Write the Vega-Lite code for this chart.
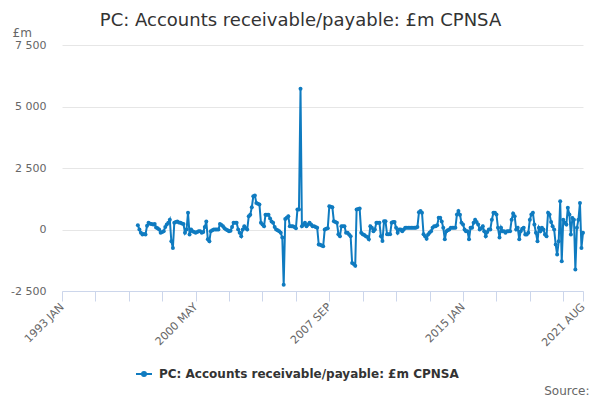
{
  "$schema": "https://vega.github.io/schema/vega-lite/v6.json",
  "width": 521,
  "height": 246,
  "autosize": "none",
  "padding": {"left": 62, "top": 45, "right": 17, "bottom": 109},
  "title": {"text": "PC: Accounts receivable/payable: £m CPNSA", "anchor": "middle", "dx": -22, "offset": -4, "fontSize": 18, "fontWeight": "normal", "color": "#333333", "font": "DejaVu Sans"},
  "data": {
    "format": {"parse": {"d": "utc:'%Y-%m'"}},
    "values": [
      {"d":"1997-03","v":175},{"d":"1997-04","v":0},{"d":"1997-05","v":-130},{"d":"1997-06","v":-200},{"d":"1997-07","v":-180},{"d":"1997-08","v":-200},{"d":"1997-09","v":150},{"d":"1997-10","v":270},{"d":"1997-11","v":230},{"d":"1997-12","v":220},
      {"d":"1998-01","v":200},{"d":"1998-02","v":220},{"d":"1998-03","v":80},{"d":"1998-04","v":50},{"d":"1998-05","v":0},{"d":"1998-06","v":-130},{"d":"1998-07","v":-100},{"d":"1998-08","v":-70},{"d":"1998-09","v":100},{"d":"1998-10","v":200},{"d":"1998-11","v":270},{"d":"1998-12","v":400},
      {"d":"1999-01","v":-480},{"d":"1999-02","v":-750},{"d":"1999-03","v":270},{"d":"1999-04","v":300},{"d":"1999-05","v":330},{"d":"1999-06","v":280},{"d":"1999-07","v":270},{"d":"1999-08","v":240},{"d":"1999-09","v":220},{"d":"1999-10","v":-130},{"d":"1999-11","v":0},{"d":"1999-12","v":680},
      {"d":"2000-01","v":-200},{"d":"2000-02","v":0},{"d":"2000-03","v":-70},{"d":"2000-04","v":-100},{"d":"2000-05","v":-130},{"d":"2000-06","v":-100},{"d":"2000-07","v":-70},{"d":"2000-08","v":-70},{"d":"2000-09","v":-130},{"d":"2000-10","v":-100},{"d":"2000-11","v":100},{"d":"2000-12","v":330},
      {"d":"2001-01","v":-400},{"d":"2001-02","v":-480},{"d":"2001-03","v":-70},{"d":"2001-04","v":-30},{"d":"2001-05","v":0},{"d":"2001-06","v":0},{"d":"2001-07","v":0},{"d":"2001-08","v":0},{"d":"2001-09","v":220},{"d":"2001-10","v":180},{"d":"2001-11","v":130},{"d":"2001-12","v":50},
      {"d":"2002-01","v":0},{"d":"2002-02","v":-30},{"d":"2002-03","v":-70},{"d":"2002-04","v":-50},{"d":"2002-05","v":100},{"d":"2002-06","v":270},{"d":"2002-07","v":270},{"d":"2002-08","v":270},{"d":"2002-09","v":0},{"d":"2002-10","v":-130},{"d":"2002-11","v":-270},{"d":"2002-12","v":0},
      {"d":"2003-01","v":130},{"d":"2003-02","v":50},{"d":"2003-03","v":0},{"d":"2003-04","v":540},{"d":"2003-05","v":600},{"d":"2003-06","v":900},{"d":"2003-07","v":1350},{"d":"2003-08","v":1380},{"d":"2003-09","v":1080},{"d":"2003-10","v":1050},{"d":"2003-11","v":1020},{"d":"2003-12","v":270},
      {"d":"2004-01","v":200},{"d":"2004-02","v":130},{"d":"2004-03","v":600},{"d":"2004-04","v":600},{"d":"2004-05","v":600},{"d":"2004-06","v":450},{"d":"2004-07","v":330},{"d":"2004-08","v":270},{"d":"2004-09","v":100},{"d":"2004-10","v":0},{"d":"2004-11","v":-30},{"d":"2004-12","v":-70},
      {"d":"2005-01","v":-130},{"d":"2005-02","v":-330},{"d":"2005-03","v":-2250},{"d":"2005-04","v":430},{"d":"2005-05","v":480},{"d":"2005-06","v":540},{"d":"2005-07","v":135},{"d":"2005-08","v":135},{"d":"2005-09","v":135},{"d":"2005-10","v":100},{"d":"2005-11","v":50},{"d":"2005-12","v":810},
      {"d":"2006-01","v":810},{"d":"2006-02","v":5720},{"d":"2006-03","v":135},{"d":"2006-04","v":200},{"d":"2006-05","v":270},{"d":"2006-06","v":135},{"d":"2006-07","v":200},{"d":"2006-08","v":270},{"d":"2006-09","v":200},{"d":"2006-10","v":135},{"d":"2006-11","v":135},{"d":"2006-12","v":100},
      {"d":"2007-01","v":70},{"d":"2007-02","v":-610},{"d":"2007-03","v":-620},{"d":"2007-04","v":-650},{"d":"2007-05","v":-680},{"d":"2007-06","v":0},{"d":"2007-07","v":30},{"d":"2007-08","v":50},{"d":"2007-09","v":950},{"d":"2007-10","v":920},{"d":"2007-11","v":900},{"d":"2007-12","v":340},
      {"d":"2008-01","v":300},{"d":"2008-02","v":270},{"d":"2008-03","v":-190},{"d":"2008-04","v":-270},{"d":"2008-05","v":135},{"d":"2008-06","v":135},{"d":"2008-07","v":135},{"d":"2008-08","v":-135},{"d":"2008-09","v":-135},{"d":"2008-10","v":-200},{"d":"2008-11","v":-270},{"d":"2008-12","v":-1360},
      {"d":"2009-01","v":-1400},{"d":"2009-02","v":-1470},{"d":"2009-03","v":810},{"d":"2009-04","v":830},{"d":"2009-05","v":850},{"d":"2009-06","v":-135},{"d":"2009-07","v":-190},{"d":"2009-08","v":-220},{"d":"2009-09","v":-270},{"d":"2009-10","v":-300},{"d":"2009-11","v":-400},{"d":"2009-12","v":135},
      {"d":"2010-01","v":70},{"d":"2010-02","v":-70},{"d":"2010-03","v":0},{"d":"2010-04","v":270},{"d":"2010-05","v":270},{"d":"2010-06","v":270},{"d":"2010-07","v":-270},{"d":"2010-08","v":-470},{"d":"2010-09","v":340},{"d":"2010-10","v":340},{"d":"2010-11","v":-190},{"d":"2010-12","v":-190},
      {"d":"2011-01","v":-190},{"d":"2011-02","v":270},{"d":"2011-03","v":300},{"d":"2011-04","v":300},{"d":"2011-05","v":70},{"d":"2011-06","v":-135},{"d":"2011-07","v":0},{"d":"2011-08","v":0},{"d":"2011-09","v":-70},{"d":"2011-10","v":0},{"d":"2011-11","v":70},{"d":"2011-12","v":70},
      {"d":"2012-01","v":70},{"d":"2012-02","v":70},{"d":"2012-03","v":70},{"d":"2012-04","v":70},{"d":"2012-05","v":70},{"d":"2012-06","v":70},{"d":"2012-07","v":100},{"d":"2012-08","v":700},{"d":"2012-09","v":750},{"d":"2012-10","v":680},{"d":"2012-11","v":-190},{"d":"2012-12","v":-270},
      {"d":"2013-01","v":-380},{"d":"2013-02","v":-200},{"d":"2013-03","v":-135},{"d":"2013-04","v":-70},{"d":"2013-05","v":70},{"d":"2013-06","v":135},{"d":"2013-07","v":135},{"d":"2013-08","v":170},{"d":"2013-09","v":480},{"d":"2013-10","v":480},{"d":"2013-11","v":330},{"d":"2013-12","v":70},
      {"d":"2014-01","v":-400},{"d":"2014-02","v":-70},{"d":"2014-03","v":-30},{"d":"2014-04","v":0},{"d":"2014-05","v":70},{"d":"2014-06","v":70},{"d":"2014-07","v":70},{"d":"2014-08","v":70},{"d":"2014-09","v":610},{"d":"2014-10","v":750},{"d":"2014-11","v":600},{"d":"2014-12","v":270},
      {"d":"2015-01","v":200},{"d":"2015-02","v":0},{"d":"2015-03","v":-70},{"d":"2015-04","v":-70},{"d":"2015-05","v":-400},{"d":"2015-06","v":70},{"d":"2015-07","v":70},{"d":"2015-08","v":270},{"d":"2015-09","v":400},{"d":"2015-10","v":300},{"d":"2015-11","v":200},{"d":"2015-12","v":0},
      {"d":"2016-01","v":50},{"d":"2016-02","v":135},{"d":"2016-03","v":-70},{"d":"2016-04","v":-270},{"d":"2016-05","v":-100},{"d":"2016-06","v":0},{"d":"2016-07","v":0},{"d":"2016-08","v":400},{"d":"2016-09","v":680},{"d":"2016-10","v":680},{"d":"2016-11","v":610},{"d":"2016-12","v":70},
      {"d":"2017-01","v":-330},{"d":"2017-02","v":70},{"d":"2017-03","v":-70},{"d":"2017-04","v":-70},{"d":"2017-05","v":-130},{"d":"2017-06","v":-70},{"d":"2017-07","v":-70},{"d":"2017-08","v":-70},{"d":"2017-09","v":400},{"d":"2017-10","v":650},{"d":"2017-11","v":540},{"d":"2017-12","v":0},
      {"d":"2018-01","v":70},{"d":"2018-02","v":-400},{"d":"2018-03","v":-70},{"d":"2018-04","v":30},{"d":"2018-05","v":70},{"d":"2018-06","v":-200},{"d":"2018-07","v":-200},{"d":"2018-08","v":-130},{"d":"2018-09","v":400},{"d":"2018-10","v":610},{"d":"2018-11","v":680},{"d":"2018-12","v":200},
      {"d":"2019-01","v":-130},{"d":"2019-02","v":-480},{"d":"2019-03","v":70},{"d":"2019-04","v":-70},{"d":"2019-05","v":70},{"d":"2019-06","v":0},{"d":"2019-07","v":-200},{"d":"2019-08","v":-270},{"d":"2019-09","v":680},{"d":"2019-10","v":610},{"d":"2019-11","v":300},{"d":"2019-12","v":130},
      {"d":"2020-01","v":0},{"d":"2020-02","v":-610},{"d":"2020-03","v":-1020},{"d":"2020-04","v":-480},{"d":"2020-05","v":1150},{"d":"2020-06","v":-1290},{"d":"2020-07","v":400},{"d":"2020-08","v":270},{"d":"2020-09","v":200},{"d":"2020-10","v":880},{"d":"2020-11","v":610},{"d":"2020-12","v":-200},
      {"d":"2021-01","v":470},{"d":"2021-02","v":400},{"d":"2021-03","v":-1630},{"d":"2021-04","v":70},{"d":"2021-05","v":400},{"d":"2021-06","v":1080},{"d":"2021-07","v":-750},{"d":"2021-08","v":-130}
    ]
  },
  "mark": {"type": "line", "strokeWidth": 2, "point": {"filled": true, "size": 16}},
  "encoding": {
    "x": {
      "field": "d", "type": "temporal",
      "scale": {"type": "utc", "domain": [{"year": 1993, "month": 1, "date": 1, "utc": true}, {"year": 2021, "month": 8, "date": 1, "utc": true}]},
      "axis": {
        "values": [
          {"year": 1993, "month": 1, "date": 1, "utc": true},
          {"year": 1994, "month": 11, "date": 1, "utc": true},
          {"year": 1996, "month": 9, "date": 1, "utc": true},
          {"year": 1998, "month": 7, "date": 1, "utc": true},
          {"year": 2000, "month": 5, "date": 1, "utc": true},
          {"year": 2002, "month": 3, "date": 1, "utc": true},
          {"year": 2004, "month": 1, "date": 1, "utc": true},
          {"year": 2005, "month": 11, "date": 1, "utc": true},
          {"year": 2007, "month": 9, "date": 1, "utc": true},
          {"year": 2009, "month": 7, "date": 1, "utc": true},
          {"year": 2011, "month": 5, "date": 1, "utc": true},
          {"year": 2013, "month": 3, "date": 1, "utc": true},
          {"year": 2015, "month": 1, "date": 1, "utc": true},
          {"year": 2016, "month": 11, "date": 1, "utc": true},
          {"year": 2018, "month": 9, "date": 1, "utc": true},
          {"year": 2020, "month": 7, "date": 1, "utc": true},
          {"year": 2021, "month": 8, "date": 1, "utc": true}
        ],
        "labelExpr": "indexof(['1993-01','2000-05','2007-09','2015-01','2021-08'], utcFormat(datum.value, '%Y-%m')) >= 0 ? upper(utcFormat(datum.value, '%Y %b')) : ''",
        "labelAngle": -45, "labelAlign": "right", "labelBaseline": "middle", "labelPadding": 4,
        "labelColor": "#666666", "labelFontSize": 11, "labelFont": "DejaVu Sans",
        "labelOverlap": false, "labelBound": false, "labelFlush": false,
        "tickSize": 10, "tickColor": "#ccd6eb", "domainColor": "#ccd6eb", "grid": false,
        "title": "Source:", "titleX": 527, "titleY": 99, "titleAlign": "right", "titleBaseline": "middle",
        "titleFontWeight": "normal", "titleColor": "#666666", "titleFontSize": 12, "titleFont": "DejaVu Sans"
      }
    },
    "y": {
      "field": "v", "type": "quantitative",
      "scale": {"domain": [-2500, 7500], "nice": false, "zero": false},
      "axis": {
        "values": [-2500, 0, 2500, 5000, 7500], "format": ",d",
        "domain": false, "ticks": false, "gridColor": "#e6e6e6",
        "labelColor": "#666666", "labelFontSize": 11, "labelFont": "DejaVu Sans", "labelPadding": 16,
        "title": "£m", "titleAngle": 0, "titleX": -50, "titleY": -13, "titleAlign": "left", "titleBaseline": "middle",
        "titleFontWeight": "normal", "titleColor": "#666666", "titleFontSize": 12, "titleFont": "DejaVu Sans"
      }
    },
    "color": {
      "datum": "PC: Accounts receivable/payable: £m CPNSA",
      "scale": {"range": ["#0f7bc0"]},
      "legend": {
        "orient": "none", "legendX": 73, "legendY": 320, "title": null,
        "symbolType": "M-1,0L1,0M-0.25,0A0.25,0.25 0 1,0 0.25,0A0.25,0.25 0 1,0 -0.25,0",
        "symbolSize": 256, "symbolStrokeWidth": 2, "symbolFillColor": "#0f7bc0", "symbolStrokeColor": "#0f7bc0",
        "labelFontSize": 12, "labelFontWeight": "bold", "labelColor": "#333333", "labelFont": "DejaVu Sans", "labelLimit": 0, "labelOffset": 6
      }
    }
  },
  "config": {
    "view": {"stroke": null},
    "font": "DejaVu Sans",
    "locale": {"number": {"decimal": ".", "thousands": " ", "grouping": [3], "currency": ["", ""], "minus": "-"}}
  }
}
